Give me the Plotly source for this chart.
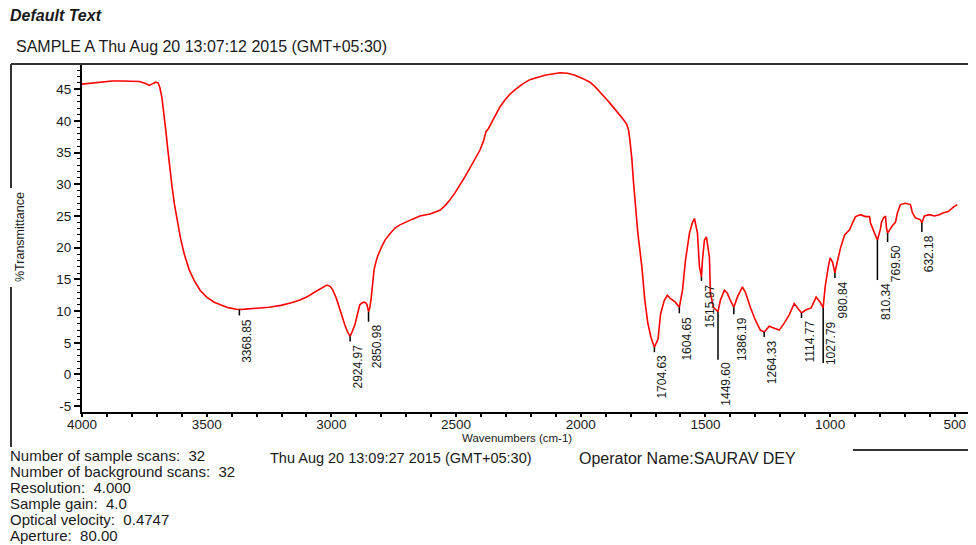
import plotly.graph_objects as go

# ---------------- data ----------------
wavenumber = [
    4000, 3960, 3920, 3880, 3840, 3800, 3770, 3745, 3730, 3720, 3705, 3695, 3688, 3680,
    3672, 3664, 3656, 3648, 3640, 3630, 3620, 3605, 3590, 3570, 3550, 3525, 3500, 3470,
    3440, 3410, 3380, 3369, 3346, 3300, 3250, 3202, 3160, 3126, 3095, 3066, 3040, 3026,
    3018, 3005, 2994, 2980, 2966, 2956, 2946, 2936, 2925, 2916, 2906, 2896, 2886, 2876,
    2869, 2862, 2857, 2851, 2846, 2841, 2835, 2829, 2821, 2813, 2800, 2785, 2765, 2745,
    2725, 2705, 2675, 2645, 2620, 2605, 2585, 2565, 2545, 2525, 2505, 2484, 2464, 2444,
    2424, 2404, 2390, 2380, 2370, 2362, 2344, 2324, 2304, 2284, 2264, 2234, 2204, 2174,
    2144, 2114, 2083, 2053, 2023, 1993, 1963, 1943, 1923, 1903, 1883, 1863, 1843, 1829,
    1815, 1808, 1803, 1795, 1789, 1783, 1771, 1755, 1743, 1731, 1718, 1704.6, 1690, 1680,
    1665, 1653, 1641, 1621, 1604.6, 1592, 1580, 1564, 1552, 1544, 1532, 1524, 1516, 1512,
    1504, 1496, 1484, 1480, 1468, 1449.6, 1440, 1424, 1412, 1400, 1386, 1372, 1352, 1340,
    1320, 1300, 1280, 1264, 1244, 1224, 1204, 1184, 1164, 1144, 1132, 1115, 1096, 1076,
    1056, 1040, 1028, 1020, 1008, 1000, 990, 981, 970, 958, 942, 922, 910, 898, 878, 858,
    842, 838, 822, 810, 798, 794, 786, 778, 774, 769.5, 758, 750, 738, 730, 718, 698, 678,
    670, 658, 638, 632, 622, 602, 582, 562, 546, 526, 506, 490,
]
transmittance = [
    45.8, 46.0, 46.2, 46.3, 46.3, 46.3, 46.2, 45.9, 45.6, 45.8, 46.1, 46.0, 45.3, 43.8,
    41.5, 38.5, 35.5, 32.5, 30.0, 27.0, 24.5, 21.5, 19.0, 16.5, 14.8, 13.2, 12.2, 11.4,
    10.9, 10.5, 10.3, 10.25, 10.3, 10.4, 10.6, 10.9, 11.3, 11.75, 12.3, 13.0, 13.6, 13.96,
    14.1, 13.9, 13.3, 12.0, 10.2, 9.0, 7.8, 6.8, 6.0, 6.8, 7.8, 9.4, 11.0, 11.3,
    11.4, 11.3, 11.0, 9.9, 10.5, 11.75, 14.0, 16.5, 17.8, 18.8, 20.0, 21.2, 22.2, 23.1,
    23.6, 24.0, 24.5, 25.0, 25.2, 25.3, 25.6, 25.9, 26.6, 27.5, 28.6, 29.9, 31.2, 32.6,
    34.0, 35.4, 36.8, 38.3, 38.8, 39.4, 40.9, 42.2, 43.3, 44.2, 44.9, 45.8, 46.5, 46.9,
    47.2, 47.4, 47.6, 47.5, 47.2, 46.7, 46.1, 45.4, 44.6, 43.7, 42.8, 41.9, 40.9, 40.2,
    39.4, 38.5, 37.0, 34.0, 30.6, 27.5, 22.3, 17.0, 11.7, 8.1, 5.8, 4.3, 5.6, 9.5,
    11.7, 12.5, 12.0, 11.4, 10.6, 13.3, 18.0, 22.3, 24.0, 24.6, 22.3, 17.0, 15.4, 18.0,
    21.2, 21.7, 18.5, 12.8, 10.6, 9.9, 11.7, 13.3, 12.8, 11.7, 10.6, 12.2, 13.8, 13.0,
    10.6, 8.6, 7.0, 6.7, 7.6, 7.3, 7.0, 8.1, 9.4, 11.2, 10.5, 9.7, 10.2, 10.5,
    12.2, 11.4, 10.5, 13.8, 16.8, 18.4, 17.7, 16.0, 18.0, 20.0, 22.0, 22.8, 23.9, 24.9, 25.2, 24.9,
    24.9, 23.9, 22.3, 21.2, 23.0, 24.0, 24.7, 25.0, 23.1, 22.3, 23.0, 23.5, 24.0, 25.5, 26.8, 27.0, 26.8,
    25.5, 24.7, 24.4, 23.9, 25.0, 25.2, 25.0, 25.2, 25.5, 25.7, 26.4, 26.8,
]

peak_wn = [3368.85, 2924.97, 2850.98, 1704.63, 1604.65, 1515.97, 1449.60, 1386.19,
           1264.33, 1114.77, 1027.79, 980.84, 810.34, 769.50, 632.18]
peak_T = [10.25, 6.0, 9.9, 4.3, 10.6, 15.4, 9.9, 10.6, 6.7, 9.7, 10.5, 16.0, 21.2, 22.3, 23.9]
peak_text = ["3368.85", "2924.97", "2850.98", "1704.63", "1604.65", "1515.97", "1449.60",
             "1386.19", "1264.33", "1114.77", "1027.79", "980.84", "810.34", "769.50", "632.18"]

x_tick_vals = [4000, 3500, 3000, 2500, 2000, 1500, 1000, 500]
y_tick_vals = [-5, 0, 5, 10, 15, 20, 25, 30, 35, 40, 45]

header_title = "Default Text"
sample_line = "SAMPLE A Thu Aug 20 13:07:12 2015 (GMT+05:30)"
x_title = "Wavenumbers (cm-1)"
y_title = "%Transmittance"
info_lines = ["Number of sample scans:  32", "Number of background scans:  32",
              "Resolution:  4.000", "Sample gain:  4.0", "Optical velocity:  0.4747",
              "Aperture:  80.00"]
date_line = "Thu Aug 20 13:09:27 2015 (GMT+05:30)"
operator_line = "Operator Name:SAURAV DEY"

# ---------------- layout helpers (pixel geometry, page coordinates) ----------------
OFF = 8                      # the page body margin that offsets the figure
W, H = 976 - OFF, 545 - OFF  # figure size
PL, PR, PT, PB = 82, 976, 64, 412   # plot area edges in page pixels
FONT = "Liberation Sans, Arial, sans-serif"
TXT = "#1a1a1a"


def px(x):
    return (x - PL) / (PR - PL)


def py(y):
    return (PB - y) / (PB - PT)


# per-label drawing geometry (pixels): stem length, text drop below curve
stem_len = [6, 5, 10, 5, 6, 4, 48, 7, 5, 5, 55, 5, 40, 9, 9]
text_drop = [8, 7, 12, 6, 8, 6, 49, 9, 7, 7, 12, 7, 42, 11, 11]

fig = go.Figure()
fig.add_trace(go.Scatter(x=wavenumber, y=transmittance, mode="lines",
                         line=dict(color="#ff0000", width=1.6), hoverinfo="skip",
                         showlegend=False))

shapes = []
annotations = []

for wn, t, lab, sl, td in zip(peak_wn, peak_T, peak_text, stem_len, text_drop):
    shapes.append(dict(type="line", xref="x", yref="y", x0=wn, x1=wn,
                       ysizemode="pixel", yanchor=t, y0=0, y1=-sl,
                       line=dict(color="black", width=1.5)))
    annotations.append(dict(x=wn, y=t, xref="x", yref="y", text=lab, showarrow=False,
                            textangle=-90, xanchor="center", yanchor="top",
                            xshift=8, yshift=-td, borderpad=0,
                            font=dict(family=FONT, size=12, color=TXT)))

# frame lines
frame = dict(color="#333333", width=2)
shapes += [
    dict(type="line", xref="paper", yref="paper", x0=px(11), x1=px(980), y0=py(64), y1=py(64), line=frame),
    dict(type="line", xref="paper", yref="paper", x0=px(11), x1=px(11), y0=py(64), y1=py(188), line=frame),
    dict(type="line", xref="paper", yref="paper", x0=px(11), x1=px(11), y0=py(287), y1=py(447), line=frame),
    dict(type="line", xref="paper", yref="paper", x0=px(853), x1=px(980), y0=py(450), y1=py(450), line=frame),
]


def text_at(x, y, s, size, anchor="left", angle=0):
    annotations.append(dict(x=px(x), y=py(y), xref="paper", yref="paper", text=s,
                            showarrow=False, xanchor=anchor, yanchor="middle",
                            textangle=angle, borderpad=0,
                            font=dict(family=FONT, size=size, color=TXT)))


text_at(9, 16, "<b><i>" + header_title + "</i></b>", 16)
text_at(15, 46, sample_line, 16)
text_at(517, 438, x_title, 11.5, anchor="center")
text_at(20, 237, y_title, 12.5, anchor="center", angle=-90)
for i, s in enumerate(info_lines):
    text_at(9, 455 + i * 16.0, s, 15)
text_at(269, 458, date_line, 14.5)
text_at(578, 458, operator_line, 16)

fig.update_layout(
    width=W, height=H,
    margin=dict(l=PL - OFF, r=W - (PR - OFF), t=PT - OFF, b=H - (PB - OFF), pad=0),
    paper_bgcolor="white", plot_bgcolor="white",
    shapes=shapes, annotations=annotations, showlegend=False,
    xaxis=dict(range=[4000, 415], tickvals=x_tick_vals, ticktext=[str(v) for v in x_tick_vals],
               showline=True, linecolor="black", linewidth=2, mirror=False,
               ticks="outside", ticklen=3, tickwidth=2, tickcolor="black",
               ticklabelstandoff=-4,
               minor=dict(dtick=100, tick0=0, ticks="outside", ticklen=3, tickwidth=2, tickcolor="black"),
               showgrid=False, zeroline=False,
               tickfont=dict(family=FONT, size=13.5, color=TXT)),
    yaxis=dict(range=[-5.92, 48.97], tickvals=y_tick_vals, ticktext=[str(v) for v in y_tick_vals],
               showline=True, linecolor="black", linewidth=2,
               ticks="outside", ticklen=6, tickwidth=1.5, tickcolor="black",
               minor=dict(dtick=1, tick0=0, ticks="outside", ticklen=3, tickwidth=1, tickcolor="black"),
               showgrid=False, zeroline=False,
               tickfont=dict(family=FONT, size=13.5, color=TXT)),
)

fig.write_html("out.html")
